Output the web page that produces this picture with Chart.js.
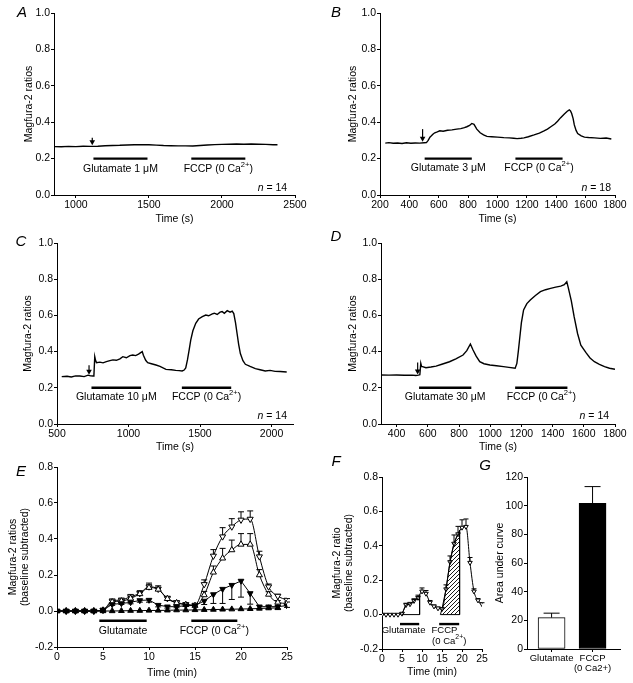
<!DOCTYPE html>
<html>
<head>
<meta charset="utf-8">
<script src="https://cdn.jsdelivr.net/npm/chart.js@4.4.1/dist/chart.umd.min.js"></script>
<style>
    html, body { margin: 0; padding: 0; background: #fff; }
    #fig { position: relative; width: 633px; height: 683px; overflow: hidden; }
    canvas { position: absolute; }
</style>
</head>
<body>
<div id="fig">
    <canvas id="chartA"></canvas>
    <canvas id="chartB"></canvas>
    <canvas id="chartC"></canvas>
    <canvas id="chartD"></canvas>
    <canvas id="chartE"></canvas>
    <canvas id="chartF"></canvas>
    <canvas id="chartG"></canvas>
</div>
<script>
// ---------- data ----------
// A: glutamate 1 uM
const aTime = [855, 900, 950, 1000, 1050, 1100, 1150, 1200, 1250, 1300, 1350, 1400, 1450, 1500, 1550, 1600, 1650, 1700, 1750, 1800, 1850, 1900, 1950, 2000, 2050, 2100, 2150, 2200, 2250, 2300, 2350, 2380];
const aRatio = [0.266, 0.265, 0.267, 0.266, 0.268, 0.267, 0.268, 0.271, 0.272, 0.273, 0.275, 0.276, 0.277, 0.276, 0.274, 0.272, 0.271, 0.270, 0.270, 0.269, 0.272, 0.275, 0.277, 0.278, 0.279, 0.280, 0.279, 0.280, 0.279, 0.278, 0.276, 0.276];
const aTicksX = [1000, 1500, 2000, 2500];
const aDrugStart = [1120, 1790];
const aDrugEnd = [1490, 2160];
const aDrugLabels = ['Glutamate 1 μM', 'FCCP (0 Ca^{2+})'];

// B: glutamate 3 uM
const bTime = [236, 260, 290, 320, 350, 380, 410, 440, 470, 500, 516, 528, 540, 550, 562, 573, 590, 607, 630, 660, 690, 722, 750, 775, 791, 810, 825, 840, 859, 882, 905, 928, 960, 1000, 1043, 1080, 1110, 1134, 1160, 1180, 1210, 1249, 1285, 1317, 1340, 1363, 1390, 1409, 1430, 1455, 1475, 1489, 1497, 1505, 1515, 1523, 1535, 1546, 1570, 1592, 1620, 1661, 1700, 1740, 1775];
const bRatio = [0.285, 0.288, 0.284, 0.286, 0.283, 0.287, 0.284, 0.286, 0.285, 0.287, 0.288, 0.300, 0.318, 0.325, 0.335, 0.342, 0.347, 0.353, 0.350, 0.356, 0.358, 0.362, 0.365, 0.370, 0.375, 0.382, 0.393, 0.388, 0.362, 0.342, 0.330, 0.322, 0.320, 0.318, 0.315, 0.314, 0.312, 0.310, 0.312, 0.314, 0.320, 0.330, 0.340, 0.352, 0.362, 0.375, 0.390, 0.405, 0.425, 0.445, 0.460, 0.468, 0.462, 0.448, 0.420, 0.385, 0.355, 0.338, 0.325, 0.318, 0.316, 0.314, 0.311, 0.313, 0.308];
const bTicksX = [200, 400, 600, 800, 1000, 1200, 1400, 1600, 1800];
const bDrugStart = [504, 1122];
const bDrugEnd = [825, 1443];
const bDrugLabels = ['Glutamate 3 μM', 'FCCP (0 Ca^{2+})'];

// C: glutamate 10 uM
const cTime = [533, 570, 600, 630, 660, 690, 717, 735, 752, 758, 764, 770, 776, 800, 822, 845, 870, 891, 915, 940, 960, 985, 1010, 1030, 1050, 1070, 1088, 1096, 1104, 1120, 1134, 1160, 1192, 1220, 1262, 1300, 1330, 1354, 1375, 1389, 1400, 1412, 1424, 1435, 1450, 1470, 1490, 1516, 1540, 1560, 1586, 1600, 1620, 1640, 1655, 1670, 1690, 1710, 1725, 1736, 1748, 1759, 1770, 1782, 1800, 1817, 1850, 1887, 1920, 1956, 1990, 2025, 2060, 2106];
const cRatio = [0.262, 0.264, 0.260, 0.266, 0.265, 0.262, 0.270, 0.266, 0.265, 0.268, 0.372, 0.350, 0.339, 0.342, 0.338, 0.345, 0.350, 0.354, 0.352, 0.360, 0.372, 0.366, 0.378, 0.381, 0.378, 0.386, 0.396, 0.400, 0.380, 0.352, 0.339, 0.333, 0.326, 0.318, 0.302, 0.300, 0.296, 0.295, 0.293, 0.298, 0.310, 0.354, 0.410, 0.464, 0.515, 0.556, 0.580, 0.593, 0.602, 0.598, 0.608, 0.612, 0.605, 0.618, 0.621, 0.612, 0.626, 0.618, 0.624, 0.610, 0.560, 0.500, 0.440, 0.389, 0.350, 0.330, 0.318, 0.306, 0.300, 0.293, 0.296, 0.291, 0.290, 0.287];
const cTicksX = [500, 1000, 1500, 2000];
const cDrugStart = [741, 1373];
const cDrugEnd = [1088, 1718];
const cDrugLabels = ['Glutamate 10 μM', 'FCCP (0 Ca^{2+})'];

// D: glutamate 30 uM
const dTime = [300, 350, 400, 450, 500, 523, 540, 549, 555, 560, 566, 588, 620, 653, 690, 739, 780, 826, 850, 873, 890, 910, 933, 960, 998, 1040, 1085, 1120, 1160, 1171, 1180, 1188, 1200, 1214, 1235, 1257, 1290, 1322, 1355, 1387, 1420, 1452, 1475, 1491, 1500, 1520, 1538, 1560, 1581, 1614, 1640, 1668, 1700, 1733, 1765, 1800];
const dRatio = [0.271, 0.270, 0.271, 0.269, 0.270, 0.268, 0.270, 0.272, 0.335, 0.318, 0.317, 0.311, 0.315, 0.320, 0.330, 0.344, 0.360, 0.381, 0.405, 0.442, 0.409, 0.375, 0.344, 0.333, 0.326, 0.322, 0.317, 0.313, 0.308, 0.335, 0.400, 0.464, 0.560, 0.630, 0.665, 0.685, 0.710, 0.731, 0.742, 0.749, 0.756, 0.762, 0.770, 0.786, 0.755, 0.680, 0.593, 0.500, 0.436, 0.394, 0.365, 0.344, 0.330, 0.317, 0.308, 0.302];
const dTicksX = [400, 600, 800, 1000, 1200, 1400, 1600, 1800];
const dDrugStart = [544, 1160];
const dDrugEnd = [879, 1495];
const dDrugLabels = ['Glutamate 30 μM', 'FCCP (0 Ca^{2+})'];

// E: baseline-subtracted means, one point per minute
const eTime = [0, 1, 2, 3, 4, 5, 6, 7, 8, 9, 10, 11, 12, 13, 14, 15, 16, 17, 18, 19, 20, 21, 22, 23, 24, 25];
const eOpenDown = [0, 0, 0, 0, 0, 0.006, 0.056, 0.061, 0.080, 0.098, 0.135, 0.122, 0.070, 0.048, 0.037, 0.033, 0.148, 0.306, 0.413, 0.468, 0.506, 0.511, 0.302, 0.135, 0.083, 0.061];
const eOpenDownErr = [0, 0, 0, 0, 0, 0.005, 0.01, 0.01, 0.012, 0.015, 0.02, 0.018, 0.012, 0.008, 0.006, 0.006, 0.025, 0.035, 0.05, 0.045, 0.045, 0.045, 0.03, 0.015, 0.01, 0.008];
const eOpenUp = [0, 0, 0, 0, 0, 0.004, 0.050, 0.055, 0.070, 0.095, 0.130, 0.120, 0.068, 0.045, 0.035, 0.030, 0.089, 0.215, 0.293, 0.339, 0.370, 0.370, 0.200, 0.092, 0.048, 0.042];
const eOpenUpErr = [0, 0, 0, 0, 0, 0.004, 0.008, 0.008, 0.01, 0.012, 0.015, 0.012, 0.01, 0.006, 0.005, 0.005, 0.02, 0.035, 0.055, 0.055, 0.06, 0.06, 0.03, 0.015, 0.01, 0.008];
const eFilledDown = [0, 0, 0, 0, 0, 0.005, 0.037, 0.042, 0.048, 0.059, 0.061, 0.033, 0.024, 0.024, 0.030, 0.030, 0.056, 0.092, 0.122, 0.144, 0.167, 0.098, 0.024, 0.024, 0.024, 0.030];
const eFilledDownErr = [0, 0, 0, 0, 0, 0.003, 0.006, 0.006, 0.008, 0.01, 0.012, 0.01, 0.008, 0.006, 0.005, 0.005, 0.02, 0.05, 0.08, 0.08, 0.09, 0.06, 0.01, 0.01, 0.012, 0.01];
const eTimeFilledUp = [0, 1, 2, 3, 4, 5, 6, 7, 8, 9, 10, 11, 12, 13, 14, 15, 16, 17, 18, 19, 20, 21, 22, 23, 24];
const eFilledUp = [0, 0, 0, 0, 0, 0, 0, 0.001, 0.002, 0.002, 0.003, 0.003, 0.004, 0.005, 0.005, 0.006, 0.007, 0.008, 0.009, 0.010, 0.011, 0.012, 0.014, 0.016, 0.017];
const eTicksX = [0, 5, 10, 15, 20, 25];
const eDrugStart = [4.6, 14.6];
const eDrugEnd = [9.75, 19.6];
const eDrugLabels = ['Glutamate', 'FCCP (0 Ca^{2+})'];

// F: area under the curve of the open-down-triangle trace
const fGlutAreaT = [5, 6, 7, 8, 9, 9.4, 9.4];
const fGlutAreaV = [0.006, 0.056, 0.061, 0.080, 0.098, 0.110, 0];
const fFccpAreaT = [14.6, 15, 16, 17, 18, 19, 19.4, 19.4];
const fFccpAreaV = [0, 0.033, 0.148, 0.306, 0.413, 0.468, 0.490, 0];
const fDrugStart = [4.5, 14.3];
const fDrugEnd = [9.3, 19.3];

// G: area under curve
const gCategories = ['Glutamate', ['FCCP', '(0 Ca2+)']];
const gPositions = [1, 2];
const gArea = [21.9, 101.6];
const gAreaErr = [3.1, 11.7];

const FONT = '"Liberation Sans", Arial, Helvetica, sans-serif';
const TICK_SIZE = 10.5;
const TITLE_SIZE = 10.5;
const TITLE_LH = 1.15;
Chart.defaults.font.family = FONT;
Chart.defaults.color = '#000';
Chart.defaults.animation = false;

// ---------- helpers ----------
function pts(xs, ys) {
    return xs.map((x, i) => ({ x: x, y: ys[i] }));
}

function traceSet(xs, ys) {
    return { data: pts(xs, ys), borderColor: '#000', borderWidth: 1.4, pointRadius: 0, tension: 0 };
}

function drugSets(starts, ends, level) {
    return starts.map((s, i) => ({
        data: [{ x: s, y: level }, { x: ends[i], y: level }],
        borderColor: '#000', borderWidth: 2.4, pointRadius: 0
    }));
}

function markerSet(xs, ys, rotation, fill, radius, extra) {
    return Object.assign({
        data: pts(xs, ys),
        borderColor: '#000', borderWidth: 1,
        pointStyle: 'triangle', pointRotation: rotation,
        pointRadius: radius, pointBackgroundColor: fill, pointBorderColor: '#000', pointBorderWidth: 1,
        tension: 0
    }, extra || {});
}

// parse "^{..}" superscripts and "*..*" italics
function richParts(str) {
    const parts = [];
    const re = /\^\{([^}]*)\}|\*([^*]+)\*/g;
    let last = 0, m;
    while ((m = re.exec(str))) {
        if (m.index > last) parts.push({ t: str.slice(last, m.index) });
        if (m[1] !== undefined) parts.push({ t: m[1], sup: true });
        else parts.push({ t: m[2], it: true });
        last = re.lastIndex;
    }
    if (last < str.length) parts.push({ t: str.slice(last) });
    return parts;
}

function drawRich(ctx, str, x, y, size, align) {
    const parts = richParts(str);
    const fontOf = p => (p.it ? 'italic ' : '') + (p.sup ? size * 0.72 : size) + 'px ' + FONT;
    let w = 0;
    parts.forEach(p => { ctx.font = fontOf(p); p.w = ctx.measureText(p.t).width; w += p.w; });
    let cx = align === 'right' ? x - w : (align === 'left' ? x : x - w / 2);
    ctx.textAlign = 'left';
    ctx.textBaseline = 'middle';
    parts.forEach(p => {
        ctx.font = fontOf(p);
        ctx.fillText(p.t, cx, p.sup ? y - size * 0.38 : y);
        cx += p.w;
    });
}

const errorBars = {
    id: 'errorBars',
    beforeDatasetsDraw(chart) {
        const ctx = chart.ctx;
        const yScale = chart.scales.y;
        ctx.save();
        ctx.strokeStyle = '#000';
        ctx.lineWidth = 1;
        chart.data.datasets.forEach((ds, i) => {
            if (!ds.errUp && !ds.errDown) return;
            const meta = chart.getDatasetMeta(i);
            const half = (ds.capWidth || 6) / 2;
            ds.data.forEach((d, j) => {
                const px = meta.data[j].x;
                const val = typeof d === 'object' ? d.y : d;
                [[ds.errUp, 1], [ds.errDown, -1]].forEach(([errs, dir]) => {
                    if (!errs || !errs[j]) return;
                    const p0 = yScale.getPixelForValue(val);
                    const p1 = yScale.getPixelForValue(val + dir * errs[j]);
                    ctx.beginPath();
                    ctx.moveTo(px, p0); ctx.lineTo(px, p1);
                    ctx.moveTo(px - half, p1); ctx.lineTo(px + half, p1);
                    ctx.stroke();
                });
            });
        });
        ctx.restore();
    }
};

const notes = {
    id: 'notes',
    afterDraw(chart, args, opts) {
        const ctx = chart.ctx;
        const xs = chart.scales.x, ys = chart.scales.y;
        ctx.save();
        ctx.fillStyle = '#000';
        ctx.strokeStyle = '#000';
        if (opts.letter) {
            ctx.font = 'italic 15px ' + FONT;
            ctx.textAlign = 'center';
            ctx.textBaseline = 'middle';
            ctx.fillText(opts.letter.text, opts.letter.x, opts.letter.y);
        }
        (opts.labels || []).forEach(l => {
            drawRich(ctx, l.text, xs.getPixelForValue(l.x), ys.getPixelForValue(l.y), opts.size || 10.5, l.align || 'center');
        });
        (opts.arrows || []).forEach(a => {
            const px = xs.getPixelForValue(a.x);
            const top = ys.getPixelForValue(a.from);
            const tip = ys.getPixelForValue(a.to);
            ctx.lineWidth = 1.2;
            ctx.beginPath(); ctx.moveTo(px, top); ctx.lineTo(px, tip - 4); ctx.stroke();
            ctx.beginPath(); ctx.moveTo(px - 2.8, tip - 5); ctx.lineTo(px + 2.8, tip - 5); ctx.lineTo(px, tip); ctx.closePath(); ctx.fill();
        });
        ctx.restore();
    }
};

function makeChart(id, geo, datasets, xAxis, yAxis, noteOpts, type) {
    const cv = document.getElementById(id);
    cv.width = geo.cw; cv.height = geo.ch;
    cv.style.left = geo.cx + 'px';
    cv.style.top = geo.cy + 'px';
    const lh = TITLE_SIZE * TITLE_LH;
    const padL = geo.ytx - geo.cx - lh / 2;
    const yW = geo.l - geo.cx - padL;
    const padT = geo.t - geo.cy;
    const padR = geo.cx + geo.cw - geo.r;
    let padB, xH;
    if (geo.xty) {
        padB = geo.cy + geo.ch - (geo.xty + lh / 2);
        xH = geo.xty + lh / 2 - geo.b;
    } else {
        padB = 0;
        xH = geo.cy + geo.ch - geo.b;
    }
    // fixed axis sizes, no label overhang padding, so the plot area lands where wanted
    xAxis.afterFit = s => { s.height = xH; s.paddingLeft = 0; s.paddingRight = 0; };
    yAxis.afterFit = s => { s.width = yW; s.paddingTop = 0; s.paddingBottom = 0; };
    return new Chart(cv, {
        type: type || 'line',
        data: { datasets: datasets },
        options: {
            responsive: false,
            devicePixelRatio: 1,
            layout: { padding: { left: padL, top: padT, right: padR, bottom: padB } },
            plugins: { legend: { display: false }, tooltip: { enabled: false }, notes: noteOpts },
            scales: { x: xAxis, y: yAxis }
        },
        plugins: [errorBars, notes]
    });
}

function axisLook(title) {
    return {
        bounds: 'data',
        offset: false,
        grid: { display: true, drawOnChartArea: false, offset: false, color: '#000', tickLength: 3, lineWidth: 1 },
        border: { display: true, color: '#000', width: 1 },
        title: title ? { display: true, text: title, padding: 0, color: '#000', font: { size: TITLE_SIZE, lineHeight: TITLE_LH } } : { display: false }
    };
}

function xLinear(min, max, tickVals, title, labelFn, size) {
    return Object.assign(axisLook(title), {
        type: 'linear', min: min, max: max,
        afterBuildTicks: s => { s.ticks = tickVals.map(v => ({ value: v })); },
        ticks: { color: '#000', padding: 1, maxRotation: 0, autoSkip: false, font: { size: size || TICK_SIZE, lineHeight: 1.1 }, callback: labelFn || (v => String(v)) }
    });
}

function yLinear(min, max, step, title, digits) {
    return Object.assign(axisLook(title), {
        type: 'linear', min: min, max: max,
        ticks: {
            color: '#000', padding: 1, stepSize: step, font: { size: TICK_SIZE },
            callback: v => (Math.abs(v) < 1e-9 ? 0 : v).toFixed(digits)
        }
    });
}

function drugNotes(starts, ends, labels, labelY) {
    return labels.map((t, i) => ({ x: (starts[i] + ends[i]) / 2, y: labelY, text: t }));
}

// ---------- A ----------
makeChart('chartA',
    { cx: 0, cy: 0, cw: 316, ch: 230, l: 54, t: 13, r: 295, b: 195, ytx: 29, xty: 219 },
    [traceSet(aTime, aRatio)].concat(drugSets(aDrugStart, aDrugEnd, 0.2)),
    xLinear(850, 2500, aTicksX, 'Time (s)'),
    yLinear(0, 1, 0.2, 'Magfura-2 ratios', 1),
    {
        letter: { text: 'A', x: 22, y: 13 },
        labels: drugNotes(aDrugStart, aDrugEnd, aDrugLabels, 0.145).concat([{ x: 2446, y: 0.038, text: '*n* = 14', align: 'right' }]),
        arrows: [{ x: 1112, from: 0.315, to: 0.274 }]
    });

// ---------- B ----------
makeChart('chartB',
    { cx: 316, cy: 0, cw: 317, ch: 230, l: 380, t: 13, r: 615, b: 195, ytx: 353, xty: 219 },
    [traceSet(bTime, bRatio)].concat(drugSets(bDrugStart, bDrugEnd, 0.2)),
    xLinear(200, 1800, bTicksX, 'Time (s)'),
    yLinear(0, 1, 0.2, 'Magfura-2 ratios', 1),
    {
        letter: { text: 'B', x: 20, y: 13 },
        labels: drugNotes(bDrugStart, bDrugEnd, bDrugLabels, 0.147).concat([{ x: 1773, y: 0.038, text: '*n* = 18', align: 'right' }]),
        arrows: [{ x: 490, from: 0.362, to: 0.292 }]
    });

// ---------- C ----------
makeChart('chartC',
    { cx: 0, cy: 230, cw: 316, ch: 225, l: 57, t: 243, r: 293, b: 424, ytx: 28, xty: 447 },
    [traceSet(cTime, cRatio)].concat(drugSets(cDrugStart, cDrugEnd, 0.2)),
    xLinear(500, 2150, cTicksX, 'Time (s)'),
    yLinear(0, 1, 0.2, 'Magfura-2 ratios', 1),
    {
        letter: { text: 'C', x: 21, y: 12 },
        labels: drugNotes(cDrugStart, cDrugEnd, cDrugLabels, 0.151).concat([{ x: 2108, y: 0.044, text: '*n* = 14', align: 'right' }]),
        arrows: [{ x: 724, from: 0.325, to: 0.272 }]
    });

// ---------- D ----------
makeChart('chartD',
    { cx: 316, cy: 230, cw: 317, ch: 225, l: 381, t: 243, r: 615, b: 424, ytx: 353, xty: 447 },
    [traceSet(dTime, dRatio)].concat(drugSets(dDrugStart, dDrugEnd, 0.2)),
    xLinear(300, 1800, dTicksX, 'Time (s)'),
    yLinear(0, 1, 0.2, 'Magfura-2 ratios', 1),
    {
        letter: { text: 'D', x: 20, y: 7 },
        labels: drugNotes(dDrugStart, dDrugEnd, dDrugLabels, 0.151).concat([{ x: 1762, y: 0.044, text: '*n* = 14', align: 'right' }]),
        arrows: [{ x: 535, from: 0.34, to: 0.274 }]
    });

// ---------- E ----------
makeChart('chartE',
    { cx: 0, cy: 455, cw: 330, ch: 228, l: 57, t: 467, r: 287, b: 647, ytx: 13, xty: 673 },
    [
        markerSet(eTimeFilledUp, eFilledUp, 0, '#000', 3.3),
        markerSet(eTime, eFilledDown, 180, '#000', 3.3, { errDown: eFilledDownErr, capWidth: 6 }),
        markerSet(eTime, eOpenUp, 0, '#fff', 3.5, { errUp: eOpenUpErr, capWidth: 6, cubicInterpolationMode: 'monotone' }),
        markerSet(eTime, eOpenDown, 180, '#fff', 3.5, { errUp: eOpenDownErr, capWidth: 6, cubicInterpolationMode: 'monotone' })
    ].concat(drugSets(eDrugStart, eDrugEnd, -0.054)),
    xLinear(0, 25, eTicksX, 'Time (min)'),
    yLinear(-0.2, 0.8, 0.2, ['Magfura-2 ratios', '(baseline subtracted)'], 1),
    {
        letter: { text: 'E', x: 21, y: 17 },
        labels: drugNotes(eDrugStart, eDrugEnd, eDrugLabels, -0.111)
    });

// ---------- F ----------
const hatchTile = document.createElement('canvas');
hatchTile.width = 4; hatchTile.height = 4;
const hctx = hatchTile.getContext('2d');
hctx.strokeStyle = '#000';
hctx.lineWidth = 0.9;
hctx.beginPath();
hctx.moveTo(0, 4); hctx.lineTo(4, 0);
hctx.moveTo(-1, 1); hctx.lineTo(1, -1);
hctx.moveTo(3, 5); hctx.lineTo(5, 3);
hctx.stroke();
const hatch = hctx.createPattern(hatchTile, 'repeat');

makeChart('chartF',
    { cx: 330, cy: 455, cw: 160, ch: 228, l: 382, t: 477, r: 482, b: 649, ytx: 337, xty: 672 },
    [
        { data: pts(fFccpAreaT, fFccpAreaV), borderColor: '#000', borderWidth: 1, pointRadius: 0, fill: 'origin', backgroundColor: hatch },
        { data: pts(fGlutAreaT, fGlutAreaV), borderColor: '#000', borderWidth: 1, pointRadius: 0, fill: false },
        { data: [{ x: fGlutAreaT[0], y: 0 }, { x: fGlutAreaT[fGlutAreaT.length - 1], y: 0 }], borderColor: '#000', borderWidth: 1, pointRadius: 0 },
        { data: [{ x: fFccpAreaT[0], y: 0 }, { x: fFccpAreaT[fFccpAreaT.length - 1], y: 0 }], borderColor: '#000', borderWidth: 1, pointRadius: 0 },
        markerSet(eTime, eOpenDown, 180, '#fff', 2.6, { errUp: eOpenDownErr, capWidth: 5, cubicInterpolationMode: 'monotone' })
    ].concat(drugSets(fDrugStart, fDrugEnd, -0.055)),
    xLinear(0, 25, eTicksX, 'Time (min)'),
    yLinear(-0.2, 0.8, 0.2, ['Magfura-2 ratio', '(baseline subtracted)'], 1),
    {
        letter: { text: 'F', x: 6, y: 7 },
        size: 9.5,
        labels: [
            { x: 5.4, y: -0.09, text: 'Glutamate' },
            { x: 15.6, y: -0.09, text: 'FCCP' },
            { x: 16.8, y: -0.153, text: '(0 Ca^{2+})' }
        ]
    });

// ---------- G ----------
makeChart('chartG',
    { cx: 476, cy: 455, cw: 157, ch: 228, l: 527, t: 477, r: 620, b: 649, ytx: 500, xty: null },
    [{
        data: pts(gPositions, gArea),
        backgroundColor: ['#fff', '#000'],
        borderColor: '#000', borderWidth: 1, borderSkipped: false,
        barThickness: 27,
        errUp: gAreaErr, capWidth: 16
    }],
    xLinear(0.4, 2.67, gPositions, null, v => gCategories[gPositions.indexOf(v)], 9.5),
    yLinear(0, 120, 20, 'Area under curve', 0),
    { letter: { text: 'G', x: 9, y: 11 } },
    'bar');
</script>
</body>
</html>
